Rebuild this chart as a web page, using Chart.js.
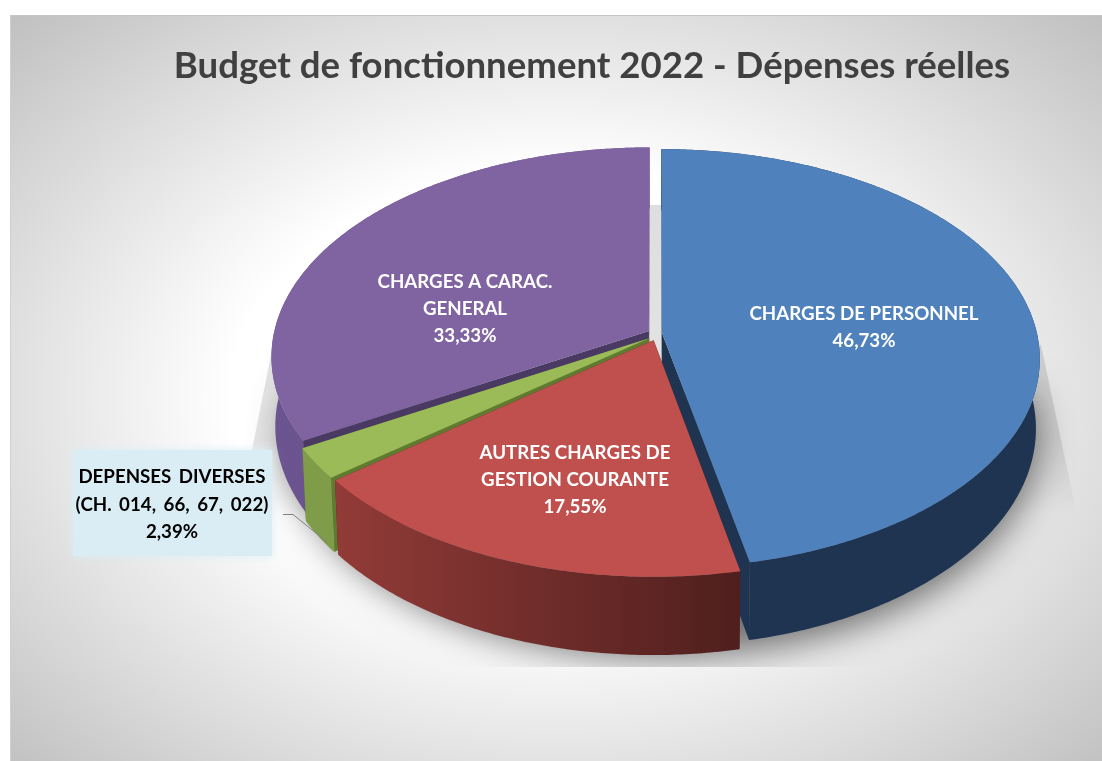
<!DOCTYPE html>
<html lang="fr"><head><meta charset="utf-8">
<style>
html,body{margin:0;padding:0;width:1102px;height:761px;background:#fff;overflow:hidden}
#bg{position:absolute;left:10px;top:15px;width:1092px;height:746px;box-sizing:border-box;border-top:1px solid #c4c4c4;border-left:1px solid #d0d0d0;
background:radial-gradient(ellipse farthest-corner at 50% 51%,#ffffff 0%,#ffffff 42%,#c0c0c0 100%)}
#wrap{position:absolute;left:0;top:0;width:1102px;height:761px}
</style>
<script src="https://cdn.jsdelivr.net/npm/chart.js@4"></script>
</head><body>
<div id="bg"></div>
<div id="wrap"><canvas id="c" width="1102" height="761"></canvas></div>
<script>
const chartTitle = 'Budget de fonctionnement 2022 - Dépenses réelles';
const categories = [['CHARGES DE PERSONNEL'],['AUTRES CHARGES DE','GESTION COURANTE'],['DEPENSES DIVERSES','(CH. 014, 66, 67, 022)'],['CHARGES A CARAC.','GENERAL']];
const values = [46.73,17.55,2.39,33.33];
const topColors = ['#4f81bd','#c0504d','#9bbb59','#8064a2'];
const explode = [8,10,7,7];

const FONT = 'Lato, Carlito, Calibri, sans-serif';
const RX = 375, PERSP = 0.122, RY = 206.4, DEPTH = 68.5, TAPER = 0.01;
const paintOrder = [0,3,2,1];
const cutColors = ['#1e3450','#5a2220','#607a30','#4a3a63'];
const wallStops = [['#1e3450','#1e3450'],['#923b38','#4f1f1d'],['#7f9c49','#7f9c49'],['#6b5490','#634c85']];
const sliceNudge = [[-1,-1.5],[2,0],[0,1],[0,-2]];
const labelAnchors = [[864,314],[575,453],[172,477],[465,282]];
const labelStep = [27,27,27.5,27];

function pt(cx,cy,t,rho,off,mid,z,nudge){
  const u = rho*Math.cos(t)+off*Math.cos(mid);
  const v = rho*Math.sin(t)+off*Math.sin(mid);
  const w = 1-PERSP*v;
  return [cx+nudge[0]+RX*(1-TAPER*z)*u/w, cy+nudge[1]+RY*v/w+z*DEPTH/w];
}
function arcPts(cx,cy,a,b,off,mid,z,nudge){
  const n=Math.max(4,Math.ceil((b-a)/0.01)),p=[];
  for(let i=0;i<=n;i++)p.push(pt(cx,cy,a+(b-a)*i/n,1,off,mid,z,nudge));
  return p;
}
function poly(ctx,p){ctx.beginPath();p.forEach((q,i)=>i?ctx.lineTo(q[0],q[1]):ctx.moveTo(q[0],q[1]));ctx.closePath();}

const pie3d = {
  id:'pie3d',
  afterLayout(chart){
    const t=chart.titleBlock,d=592-(t.left+t.right)/2;
    t.left+=d;t.right+=d;
  },
  beforeDatasetDraw(chart){
    const ctx=chart.ctx, arcs=chart.getDatasetMeta(0).data, cx0=arcs[0].x, cy0=arcs[0].y;
    // floor shadow, cropped top and bottom like the original picture
    ctx.save();
    ctx.beginPath();ctx.rect(240,205,850,462);ctx.clip();
    const fade=ctx.createLinearGradient(0,205,0,540);
    fade.addColorStop(0,'rgba(0,0,0,0.13)');fade.addColorStop(0.7,'rgba(0,0,0,0.10)');fade.addColorStop(0.92,'rgba(0,0,0,0)');
    ctx.fillStyle=fade;
    poly(ctx,[[500,205],[800,205],[1041,345],[1078,520],[1000,600],[600,640],[300,600],[252,450],[272,350]]);ctx.fill();
    const rim=arcPts(cx0,cy0,-0.1,Math.PI+0.1,0,0,1,[0,0]);
    ctx.shadowColor='rgba(0,0,0,0.55)';ctx.shadowBlur=36;ctx.shadowOffsetX=3007;ctx.shadowOffsetY=9;
    ctx.fillStyle='#000';
    poly(ctx,rim.map(q=>[q[0]-3000,q[1]]));ctx.fill();
    ctx.restore();

    paintOrder.forEach(i=>{
      const el=arcs[i], s=el.startAngle, e=el.endAngle, mid=(s+e)/2, off=el.options.offset/RX, n=sliceNudge[i];
      const cx=el.x, cy=el.y;
      const apex0=pt(cx,cy,0,0,off,mid,0,n), apex1=pt(cx,cy,0,0,off,mid,1,n);
      const top=arcPts(cx,cy,s,e,off,mid,0,n), bot=arcPts(cx,cy,s,e,off,mid,1,n);
      ctx.fillStyle=cutColors[i];
      poly(ctx,[apex0,top[0],bot[0],apex1]);ctx.fill();
      poly(ctx,[apex0,top[top.length-1],bot[bot.length-1],apex1]);ctx.fill();
      const xs=top.concat(bot).map(q=>q[0]);
      const wg=ctx.createLinearGradient(Math.min(...xs),0,Math.max(...xs),0);
      const st=wallStops[i];
      wg.addColorStop(0,st[0]);wg.addColorStop(1,st[1]);
      ctx.fillStyle=wg;
      poly(ctx,top.concat(bot.slice().reverse()));ctx.fill();
      ctx.fillStyle=el.options.backgroundColor;
      poly(ctx,[apex0].concat(top));ctx.fill();
    });
    return false;
  },
  afterDatasetsDraw(chart){
    const ctx=chart.ctx;
    ctx.save();
    ctx.strokeStyle='#7f7f7f';ctx.lineWidth=1;
    ctx.beginPath();ctx.moveTo(283,514.5);ctx.lineTo(293,514.5);ctx.lineTo(327,542);ctx.stroke();
    ctx.shadowColor='rgba(218,237,244,1)';ctx.shadowBlur=8;
    ctx.fillStyle='#daedf4';ctx.fillRect(73,450,199,106);
    ctx.restore();
    ctx.save();
    ctx.font='bold 18.7px '+FONT;ctx.textAlign='center';ctx.textBaseline='middle';
    categories.forEach((lines,i)=>{
      ctx.fillStyle=i===2?'#000000':'#ffffff';
      ctx.wordSpacing=i===2?'3px':'0px';
      const [x,y]=labelAnchors[i];
      const all=lines.concat([values[i].toFixed(2).replace('.',',')+'%']);
      all.forEach((s,k)=>ctx.fillText(s,x,y+k*labelStep[i]));
    });
    ctx.restore();
  }
};

new Chart(document.getElementById('c'),{
  type:'pie',
  data:{labels:categories.map(c=>c.join(' ')),datasets:[{data:values,backgroundColor:topColors,borderWidth:0,offset:explode}]},
  options:{
    responsive:false,animation:false,
    layout:{padding:{left:208,top:0,bottom:191,right:0}},
    plugins:{
      legend:{display:false},tooltip:{enabled:false},
      title:{display:true,text:chartTitle,color:'#404040',font:{family:FONT,size:36.6,weight:'bold',lineHeight:1.2},padding:{top:44,bottom:12}}
    }
  },
  plugins:[pie3d]
});
</script>
</body></html>
